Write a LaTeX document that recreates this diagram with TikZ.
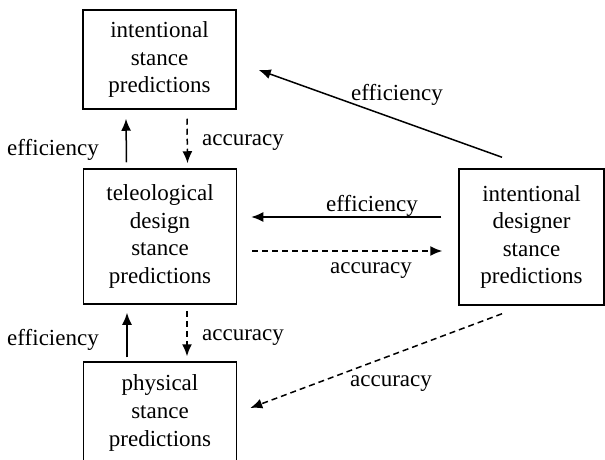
\documentclass[tikz,border=0pt]{standalone}
\usepackage{fontspec}
\setmainfont{Liberation Serif}
\usetikzlibrary{arrows.meta}

\tikzset{
	stancebox/.style={shape=rectangle,draw=black,line width=0.75pt,align=center,inner sep=0pt,font=\fontsize{11.5}{13.8}\selectfont},
	lbl/.style={inner sep=0pt,font=\fontsize{11.5}{13.8}\selectfont},
	link/.style={line width=0.75pt,-{Latex[length=6pt,width=5pt]}},
	dashlink/.style={link,dash pattern=on 3pt off 2pt}
}

\begin{document}
\begin{tikzpicture}[x=0.5pt,y=-0.5pt]
	
	\useasboundingbox (0,0) rectangle (605,460);
	
	\node[stancebox,minimum width=76.5pt,minimum height=49.5pt] (intent) at (159.5, 59.5) {intentional\\stance\\predictions};
	\node[stancebox,minimum width=76.5pt,minimum height=67.5pt] (teleo)  at (160, 236.5)  {teleological\\design\\stance\\predictions};
	\node[stancebox,minimum width=76.5pt,minimum height=51pt]   (phys)   at (160, 413)    {physical\\stance\\predictions};
	\node[stancebox,minimum width=72.5pt,minimum height=68pt]   (design) at (531.5, 237)  {intentional\\designer\\stance\\predictions};
	
	\path[link]     ([shift={(-33.5,-6)}]teleo.north) edge ([shift={(-33.5,9)}]intent.south);
	\path[dashlink] ([shift={(27.5,9)}]intent.south)  edge ([shift={(27.5,-5)}]teleo.north);
	\path[link]     ([shift={(-33,-4)}]phys.north)    edge ([shift={(-33,8)}]teleo.south);
	\path[dashlink] ([shift={(27,6)}]teleo.south)     edge ([shift={(27,-5)}]phys.north);
	
	\path[link]     ([shift={(-17,-20)}]design.west)  edge ([shift={(14,-19.5)}]teleo.east);
	\path[dashlink] ([shift={(15,14.5)}]teleo.east)   edge ([shift={(-16,14)}]design.west);
	
	\path[link]     ([shift={(-29.5,-11)}]design.north) edge ([shift={(22,10.5)}]intent.east);
	\path[dashlink] ([shift={(-29.5,8)}]design.south)   edge ([shift={(13,-5)}]phys.east);
	
	\node[lbl] (effA) at (53, 150)  {efficiency};
	\node[lbl] (accA) at (243, 143) {accuracy};
	\node[lbl] (effB) at (53, 340)  {efficiency};
	\node[lbl] (accB) at (243, 338) {accuracy};
	\node[lbl] (effC) at (372, 206) {efficiency};
	\node[lbl] (accC) at (371, 271) {accuracy};
	\node[lbl] (effD) at (397, 95)  {efficiency};
	\node[lbl] (accD) at (391, 384) {accuracy};
	
\end{tikzpicture}
\end{document}
